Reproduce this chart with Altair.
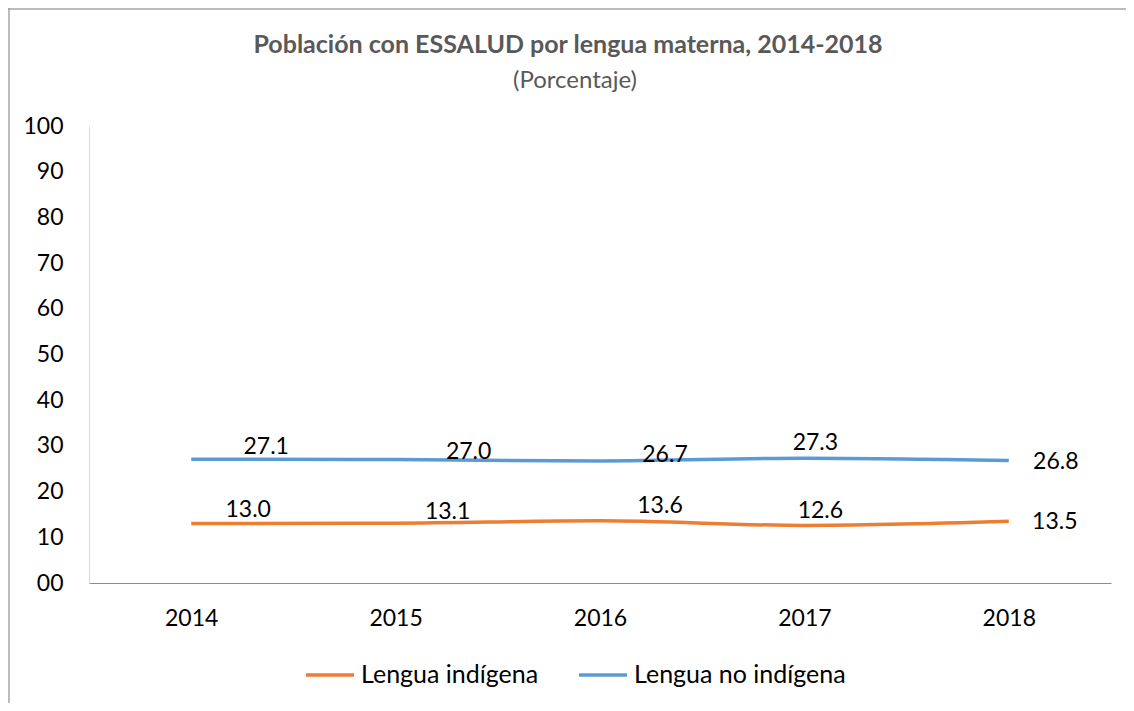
import altair as alt
import pandas as pd

years = ["2014", "2015", "2016", "2017", "2018"]
indigena = [13.0, 13.1, 13.6, 12.6, 13.5]
no_indigena = [27.1, 27.0, 26.7, 27.3, 26.8]
series_names = ["Lengua indígena", "Lengua no indígena"]
colors = ["#ED7D31", "#5B9BD5"]
title_text = "Población con ESSALUD por lengua materna, 2014-2018"
subtitle_text = "(Porcentaje)"

rows = []
for name, vals in zip(series_names, [indigena, no_indigena]):
    for y, v in zip(years, vals):
        rows.append({"year": y, "value": v, "serie": name})
df = pd.DataFrame(rows)

FONT = "Lato"
FS = 23
W, H = 1022, 457

base = alt.Chart(df)

x_enc = alt.X("year:N", sort=years, title=None,
              scale=alt.Scale(paddingInner=0, paddingOuter=0.5),
              axis=alt.Axis(labelAngle=0, labelFontSize=FS, labelFont=FONT, labelColor="#000000",
                            labelPadding=24, ticks=False, domainColor="#8c8c8c", domainWidth=1.2))
y_enc = alt.Y("value:Q", title=None,
              scale=alt.Scale(domain=[0, 100]),
              axis=alt.Axis(values=list(range(0, 101, 10)), labelFontSize=FS, labelFont=FONT,
                            labelColor="#000000", labelPadding=26, ticks=False, grid=False,
                            domainColor="#d9d9d9",
                            labelExpr="datum.value == 0 ? '00' : datum.label"))
color_enc = alt.Color("serie:N", title=None,
                      scale=alt.Scale(domain=series_names, range=colors),
                      legend=alt.Legend(orient="none", legendX=215, legendY=523, direction="horizontal",
                                        symbolType="stroke", symbolSize=2300, symbolStrokeWidth=3.5,
                                        labelFontSize=25, labelFont=FONT, labelColor="#000000",
                                        labelLimit=0, columnPadding=33, labelOffset=5))

lines = base.mark_line(strokeWidth=3.5, interpolate="monotone").encode(x=x_enc, y=y_enc, color=color_enc)

# label offsets (dx, dy) per series / year, imitating the reference's placement
label_style = {
    ("Lengua no indígena", "2014"): (75, -12), ("Lengua indígena", "2014"): (57, -14),
    ("Lengua no indígena", "2015"): (73, -8), ("Lengua indígena", "2015"): (52, -11),
    ("Lengua no indígena", "2016"): (65, -6), ("Lengua indígena", "2016"): (60, -15),
    ("Lengua no indígena", "2017"): (11, -15), ("Lengua indígena", "2017"): (16, -14),
    ("Lengua no indígena", "2018"): (47, 1), ("Lengua indígena", "2018"): (46, 1),
}
text_layers = []
for (serie, yr), (dx, dy) in label_style.items():
    text_layers.append(
        base.transform_filter((alt.datum.year == yr) & (alt.datum.serie == serie)).mark_text(
            dx=dx, dy=dy, fontSize=FS, font=FONT, color="#000000", baseline="middle"
        ).encode(x=alt.X("year:N", sort=years), y="value:Q", text=alt.Text("value:Q", format=".1f"))
    )

one = pd.DataFrame({"a": [0]})
border_left = alt.Chart(one).mark_rule(color="#a6a6a6", strokeWidth=1.5).encode(
    x=alt.value(-80), y=alt.value(-118), y2=alt.value(577))
border_top = alt.Chart(one).mark_rule(color="#a6a6a6", strokeWidth=1.5).encode(
    x=alt.value(-81), x2=alt.value(W + 15), y=alt.value(-117))

title_mark = alt.Chart(one).mark_text(
    font=FONT, fontSize=25, fontWeight="bold", color="#595959", align="center", baseline="middle"
).encode(x=alt.value(479), y=alt.value(-81), text=alt.value(title_text))
subtitle_mark = alt.Chart(one).mark_text(
    font=FONT, fontSize=24, color="#595959", align="center", baseline="middle"
).encode(x=alt.value(486), y=alt.value(-45), text=alt.value(subtitle_text))

chart = alt.layer(border_left, border_top, title_mark, subtitle_mark, lines, *text_layers).properties(
    width=W, height=H,
    autosize=alt.AutoSizeParams(type="none"),
    padding={"left": 81, "top": 118, "right": 15, "bottom": 120},
).configure(background="white").configure_view(stroke=None)

chart.save("out.html", embed_options={"renderer": "svg", "actions": False})
